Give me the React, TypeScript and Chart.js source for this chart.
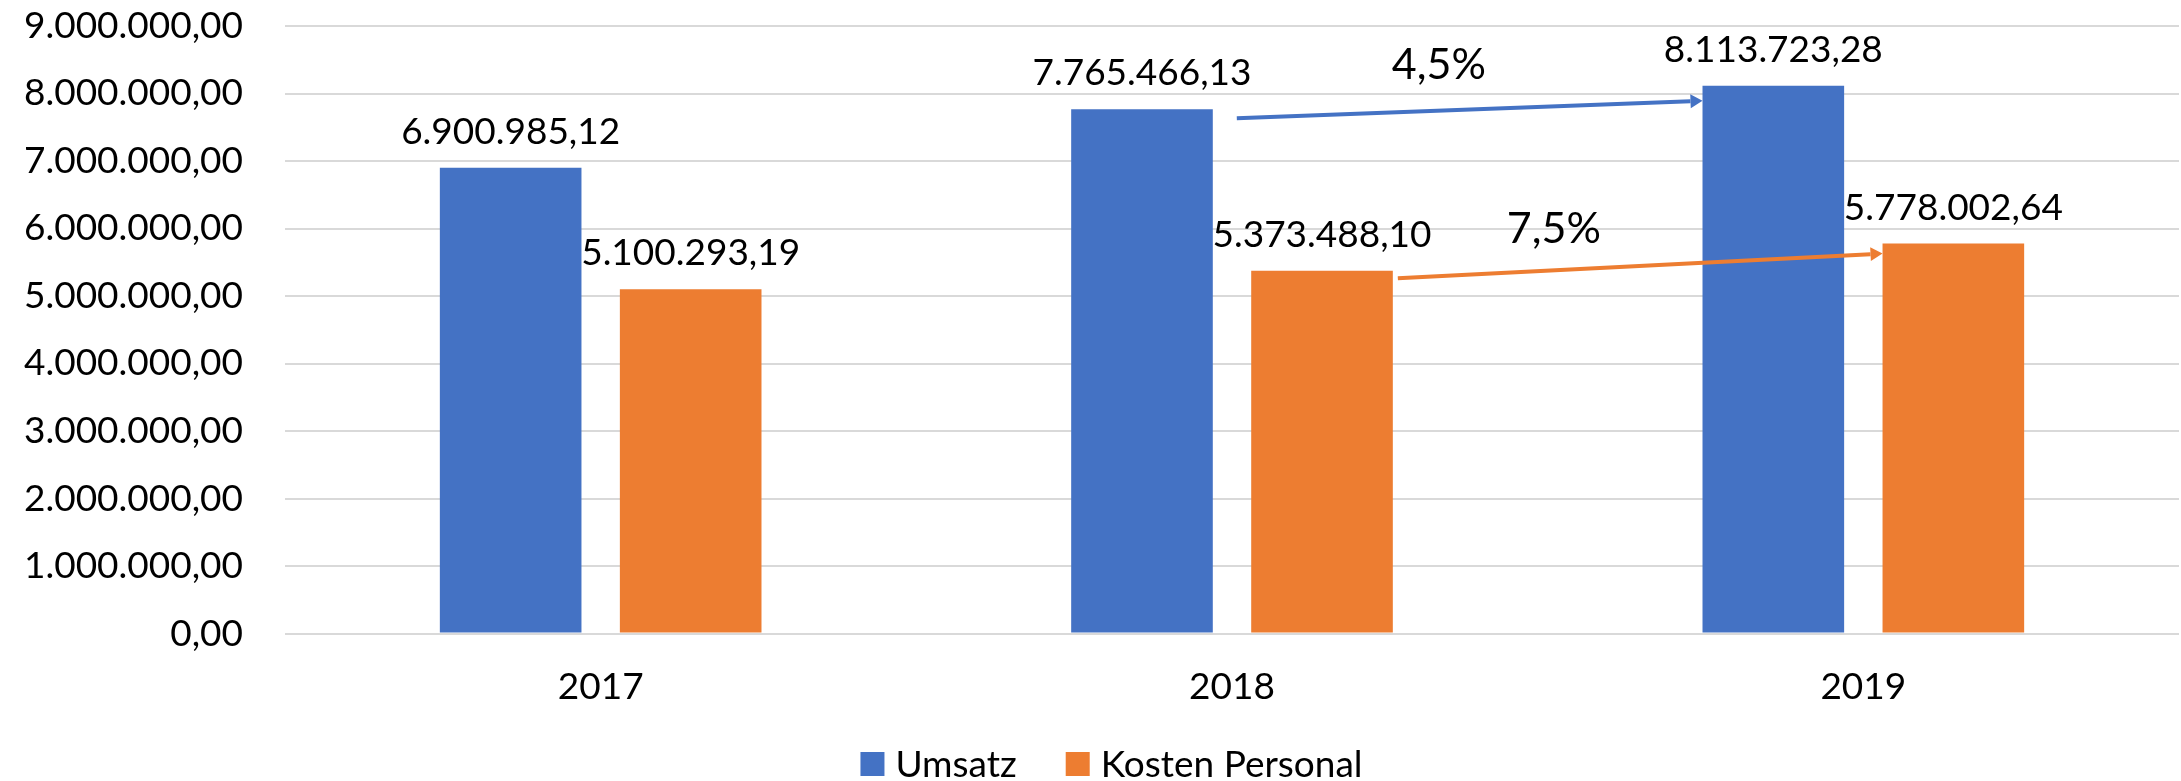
import React, { useEffect, useRef } from 'react';
import { Chart, registerables } from 'chart.js';

Chart.register(...registerables);

const categories = ['2017', '2018', '2019'];
const seriesNames = ['Umsatz', 'Kosten Personal'];
const umsatz = [6900985.12, 7765466.13, 8113723.28];
const kostenPersonal = [5100293.19, 5373488.1, 5778002.64];
const seriesColors = ['#4472C4', '#ED7D31'];
const yMin = 0;
const yMax = 9000000;
const yStep = 1000000;

const FONT = "Lato, 'Open Sans', sans-serif";

function fmt(v: number): string {
  const [i, d] = v.toFixed(2).split('.');
  return i.replace(/\B(?=(\d{3})+(?!\d))/g, '.') + ',' + d;
}

function pct(a: number, b: number): string {
  return ((b / a - 1) * 100).toFixed(1).replace('.', ',') + '%';
}

const annotPlugin = {
  id: 'annot',
  afterDatasetsDraw(chart: any) {
    const ctx = chart.ctx as CanvasRenderingContext2D;
    ctx.save();

    const drawArrow = (x1: number, y1: number, x2: number, y2: number, color: string) => {
      const ang = Math.atan2(y2 - y1, x2 - x1);
      const headLen = 12;
      const headW = 7;
      const bx = x2 - headLen * Math.cos(ang);
      const by = y2 - headLen * Math.sin(ang);
      ctx.strokeStyle = color;
      ctx.fillStyle = color;
      ctx.lineWidth = 4;
      ctx.beginPath();
      ctx.moveTo(x1, y1);
      ctx.lineTo(bx, by);
      ctx.stroke();
      ctx.beginPath();
      ctx.moveTo(x2, y2);
      ctx.lineTo(bx + headW * Math.sin(ang), by - headW * Math.cos(ang));
      ctx.lineTo(bx - headW * Math.sin(ang), by + headW * Math.cos(ang));
      ctx.closePath();
      ctx.fill();
    };

    const arrowCfg = [
      { ds: 0, sx: 24, sy: 9, ey: 15, tx: 202, ty: -39 },
      { ds: 1, sx: 5, sy: 7.4, ey: 10, tx: 156, ty: -35 },
    ];
    const values = [umsatz, kostenPersonal];

    arrowCfg.forEach((c) => {
      const meta = chart.getDatasetMeta(c.ds);
      const a = meta.data[1];
      const b = meta.data[2];
      const x1 = a.x + a.width / 2 + c.sx;
      const y1 = a.y + c.sy;
      const x2 = b.x - b.width / 2;
      const y2 = b.y + c.ey;
      drawArrow(x1, y1, x2, y2, seriesColors[c.ds]);
      ctx.fillStyle = '#000';
      ctx.font = `43px ${FONT}`;
      ctx.textAlign = 'center';
      ctx.textBaseline = 'alphabetic';
      ctx.fillText(pct(values[c.ds][1], values[c.ds][2]), x1 + c.tx, y1 + c.ty);
    });

    // data labels
    ctx.fillStyle = '#000';
    ctx.font = `37px ${FONT}`;
    ctx.textAlign = 'center';
    ctx.textBaseline = 'alphabetic';
    chart.data.datasets.forEach((ds: any, di: number) => {
      const meta = chart.getDatasetMeta(di);
      meta.data.forEach((bar: any, i: number) => {
        ctx.fillText(fmt(ds.data[i]), bar.x, bar.y - 24);
      });
    });
    ctx.restore();
  },
  afterDraw(chart: any) {
    // legend (bottom, centred)
    const ctx = chart.ctx as CanvasRenderingContext2D;
    ctx.save();
    ctx.font = `37px ${FONT}`;
    ctx.textAlign = 'left';
    ctx.textBaseline = 'alphabetic';
    const box = 24;
    const gapBoxText = 11;
    const gapItems = 49;
    const items = chart.data.datasets.map((ds: any) => ({
      text: ds.label as string,
      color: ds.backgroundColor as string,
      w: ctx.measureText(ds.label).width,
    }));
    const total =
      items.reduce((s: number, it: any) => s + box + gapBoxText + it.w, 0) + gapItems * (items.length - 1);
    let x = 1111.5 - total / 2;
    const baseline = 777;
    items.forEach((it: any) => {
      ctx.fillStyle = it.color;
      ctx.fillRect(x, baseline - 25, box, box);
      x += box + gapBoxText;
      ctx.fillStyle = '#000';
      ctx.fillText(it.text, x, baseline);
      x += it.w + gapItems;
    });
    ctx.restore();
  },
};

export default function App() {
  const ref = useRef<HTMLCanvasElement>(null);

  useEffect(() => {
    document.body.style.margin = '0';
    document.body.style.overflow = 'hidden';
    const canvas = ref.current;
    if (!canvas) return;
    const chart = new Chart(canvas, {
      type: 'bar',
      data: {
        labels: categories,
        datasets: [
          {
            label: seriesNames[0],
            data: umsatz,
            backgroundColor: seriesColors[0],
            categoryPercentage: 0.5703,
            barPercentage: 0.7867,
          },
          {
            label: seriesNames[1],
            data: kostenPersonal,
            backgroundColor: seriesColors[1],
            categoryPercentage: 0.5703,
            barPercentage: 0.7867,
          },
        ],
      },
      options: {
        responsive: false,
        animation: false,
        devicePixelRatio: 1,
        layout: { padding: { left: 0, right: 2, top: 26, bottom: 40 } },
        plugins: {
          legend: { display: false },
          tooltip: { enabled: false },
        },
        scales: {
          x: {
            grid: { display: false, drawTicks: false },
            border: { display: false },
            ticks: { color: '#000', font: { family: FONT, size: 37 }, padding: 31.5 },
          },
          y: {
            min: yMin,
            max: yMax,
            afterFit: (scale: any) => {
              scale.width = 285;
            },
            grid: {
              color: '#D9D9D9',
              lineWidth: 2,
              drawTicks: true,
              tickLength: 42,
              tickColor: 'rgba(0,0,0,0)',
            },
            border: { display: false },
            ticks: {
              stepSize: yStep,
              color: '#000',
              padding: 0,
              font: { family: FONT, size: 37 },
              callback: (v: any) => fmt(Number(v)),
            },
          },
        },
      },
      plugins: [annotPlugin],
    });
    return () => chart.destroy();
  }, []);

  return (
    <div style={{ width: 2181, height: 781 }}>
      <canvas ref={ref} width={2181} height={781} style={{ width: 2181, height: 781, display: 'block' }} />
    </div>
  );
}
